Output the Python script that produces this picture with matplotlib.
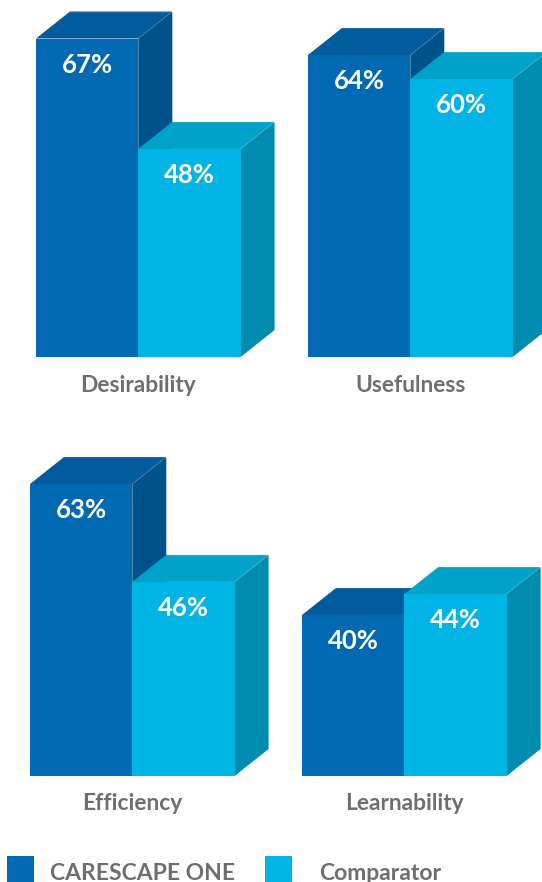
import matplotlib
matplotlib.use("Agg")
import matplotlib.pyplot as plt
from matplotlib.patches import Polygon, Rectangle

plt.rcParams["font.family"] = ["Lato", "DejaVu Sans"]

categories = ["Desirability", "Usefulness", "Efficiency", "Learnability"]
carescape = [67, 64, 63, 40]
comparator = [48, 60, 46, 44]
series_names = ["CARESCAPE ONE", "Comparator"]

# each panel has a truncated value axis
axis_floor = [12.2, 13.7, 12.3, 9.3]

W, H = 542, 882
# left edge, baseline, height of the tallest bar (pixels from top left)
panels = [(36, 357, 318.5), (308, 357, 302), (30, 776, 292), (302, 776, 182)]
BAR_W = 102.3
DEPTH_X, DEPTH_Y = 34, 27

DARK = ("#0069b1", "#005c9d", "#00528a")
LIGHT = ("#00b4e6", "#00a2ca", "#008cae")
GREY = "#6d6e70"

fig = plt.figure(figsize=(W / 100, H / 100), dpi=100)


def draw_box(ax, x, val, floor, cols, z, dx, dy):
    ax.bar(x, val - floor, bottom=floor, width=1, color=cols[0], linewidth=0, zorder=z + 1)
    left, right = x - 0.5, x + 0.5
    top = Polygon([(left, val), (right, val), (right + dx, val + dy), (left + dx, val + dy)],
                  facecolor=cols[1], edgecolor="none", clip_on=False, zorder=z)
    side = Polygon([(right, val), (right + dx, val + dy), (right + dx, floor + dy), (right, floor)],
                   facecolor=cols[2], edgecolor="none", clip_on=False, zorder=z)
    ax.add_patch(top)
    ax.add_patch(side)
    # thin highlight along the top corner
    ax.plot([right, right + dx], [val, val + dy], color="white", alpha=0.15, lw=0.5,
            clip_on=False, zorder=z + 0.5)
    ax.plot([left + dx, right + dx], [val + dy, val + dy], color="white", alpha=0.15, lw=0.5,
            clip_on=False, zorder=z + 0.5)
    ax.annotate(f"{val}%", xy=(x, val), xytext=(0, -26), textcoords="offset pixels",
                ha="center", va="center", color="white", fontsize=18.5, fontweight="bold",
                zorder=10, annotation_clip=False)


for i, name in enumerate(categories):
    left, base, height = panels[i]
    ax = fig.add_axes([left / W, 1 - base / H, 2 * BAR_W / W, height / H])
    floor = axis_floor[i]
    vmax = max(carescape[i], comparator[i])
    ax.set_xlim(0, 2)
    ax.set_ylim(floor, vmax)
    ax.axis("off")

    dx = DEPTH_X / BAR_W
    dy = DEPTH_Y * (vmax - floor) / height
    draw_box(ax, 0.5, carescape[i], floor, DARK, 1, dx, dy)
    draw_box(ax, 1.5, comparator[i], floor, LIGHT, 3, dx, dy)

    ax.annotate(name, xy=(1, floor), xytext=(0, -28), textcoords="offset pixels",
                ha="center", va="center", color=GREY, fontsize=16.4, fontweight="bold",
                annotation_clip=False)

# legend row along the bottom edge
swatches = [(7, DARK[0], 50), (265, LIGHT[0], 319)]
for (sx, col, tx), label in zip(swatches, series_names):
    fig.add_artist(Rectangle((sx / W, 0), 27 / W, 26 / H, facecolor=col, edgecolor="none",
                             transform=fig.transFigure))
    fig.text(tx / W, 1 - 873 / H, label, ha="left", va="center", color=GREY,
             fontsize=16.5, fontweight="bold")

fig.savefig("out.png", dpi=100)
